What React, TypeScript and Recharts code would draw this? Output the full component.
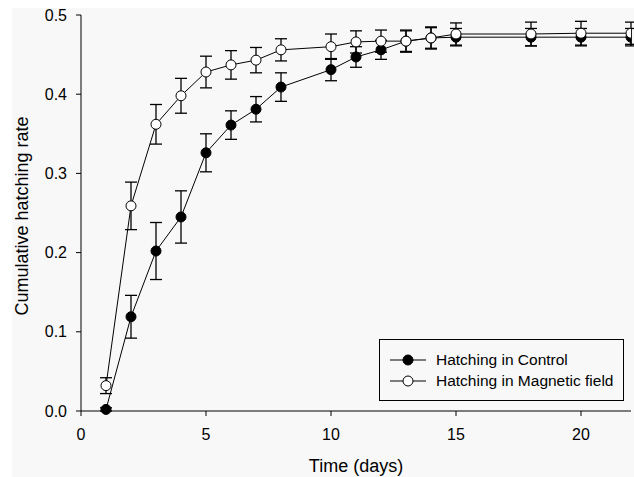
import React from 'react';
import {
  LineChart, Line, XAxis, YAxis, ErrorBar,
} from 'recharts';

// days sampled
const days = [1, 2, 3, 4, 5, 6, 7, 8, 10, 11, 12, 13, 14, 15, 18, 20, 22];

// Hatching in Control (filled markers)
const controlRate = [0.002, 0.119, 0.202, 0.245, 0.326, 0.361, 0.381, 0.409, 0.431, 0.447, 0.456, 0.467, 0.471, 0.472, 0.472, 0.472, 0.472];
const controlErr = [0.002, 0.027, 0.036, 0.033, 0.024, 0.018, 0.016, 0.018, 0.014, 0.013, 0.012, 0.013, 0.013, 0.011, 0.011, 0.011, 0.011];

// Hatching in Magnetic field (open markers)
const magneticRate = [0.032, 0.259, 0.362, 0.398, 0.428, 0.437, 0.443, 0.456, 0.46, 0.466, 0.467, 0.467, 0.471, 0.476, 0.476, 0.477, 0.477];
const magneticErr = [0.01, 0.03, 0.025, 0.022, 0.02, 0.018, 0.016, 0.014, 0.016, 0.014, 0.014, 0.014, 0.014, 0.014, 0.015, 0.015, 0.014];

const xTicks = [0, 5, 10, 15, 20];
const yTicks = [0, 0.1, 0.2, 0.3, 0.4, 0.5];

const seriesNames = ['Hatching in Control', 'Hatching in Magnetic field'];

const data = days.map((d, i) => ({
  day: d,
  control: controlRate[i],
  controlErr: controlErr[i],
  magnetic: magneticRate[i],
  magneticErr: magneticErr[i],
}));

const FONT = 'Arial, "Liberation Sans", Helvetica, sans-serif';

// drawn outside the chart so it doesn't eat into the plot offset
const LegendBox = () => (
  <div
    style={{
      position: 'absolute',
      left: 379,
      top: 339,
      width: 245,
      height: 62,
      border: '1px solid #000',
      background: '#f8f8f8',
      fontFamily: FONT,
      fontSize: 15.5,
      color: '#000',
      boxSizing: 'border-box',
      paddingTop: 10,
    }}
  >
    {seriesNames.map((name, i) => (
      <div key={name} style={{ display: 'flex', alignItems: 'center', height: 20, marginTop: i ? 1 : 0 }}>
        <svg width={52} height={14} style={{ flex: 'none' }}>
          <line x1={10} y1={7} x2={46} y2={7} stroke="#000" strokeWidth={1} />
          <circle cx={28} cy={7} r={5} fill={i === 0 ? '#000' : '#fff'} stroke="#000" strokeWidth={1} />
        </svg>
        <span style={{ marginLeft: 4 }}>{name}</span>
      </div>
    ))}
  </div>
);

export default function App() {
  return (
    <div style={{ position: 'absolute', left: 0, top: 0, width: 634, height: 477, background: '#fff' }}>
      <div style={{ position: 'absolute', left: 12, top: 8, right: 0, bottom: 0, background: '#f8f8f8' }} />
      <div style={{ position: 'absolute', left: 0, top: 0 }}>
        <LineChart width={634} height={477} data={data} margin={{ top: 15, right: 3, left: 0, bottom: 0 }}>
          <XAxis
            dataKey="day"
            type="number"
            domain={[0, 22]}
            ticks={xTicks}
            allowDataOverflow
            height={66}
            tickSize={5}
            tickMargin={13}
            stroke="#000"
            tick={{ fill: '#000', fontSize: 16, fontFamily: FONT }}
            label={{
              content: () => (
                <text x={356} y={472} textAnchor="middle" fontSize={18} fontFamily={FONT} fill="#000">
                  Time (days)
                </text>
              ),
            }}
          />
          <YAxis
            type="number"
            domain={[0, 0.5]}
            ticks={yTicks}
            width={81}
            tickSize={5}
            tickMargin={9}
            stroke="#000"
            tickFormatter={(v: number) => v.toFixed(1)}
            tick={{ fill: '#000', fontSize: 16, fontFamily: FONT }}
            label={{
              content: () => (
                <text
                  x={28}
                  y={216}
                  transform="rotate(-90 28 216)"
                  textAnchor="middle"
                  fontSize={18}
                  fontFamily={FONT}
                  fill="#000"
                >
                  Cumulative hatching rate
                </text>
              ),
            }}
          />
          <Line
            dataKey="control"
            name={seriesNames[0]}
            stroke="#000"
            strokeWidth={1}
            isAnimationActive={false}
            dot={{ r: 5, fill: '#000', stroke: '#000', strokeWidth: 1 }}
            activeDot={false}
          >
            <ErrorBar dataKey="controlErr" direction="y" width={6} stroke="#000" strokeWidth={1.3} isAnimationActive={false} />
          </Line>
          <Line
            dataKey="magnetic"
            name={seriesNames[1]}
            stroke="#000"
            strokeWidth={1}
            isAnimationActive={false}
            dot={{ r: 5, fill: '#fff', stroke: '#000', strokeWidth: 1 }}
            activeDot={false}
          >
            <ErrorBar dataKey="magneticErr" direction="y" width={6} stroke="#000" strokeWidth={1.3} isAnimationActive={false} />
          </Line>
        </LineChart>
      </div>
      <LegendBox />
    </div>
  );
}
